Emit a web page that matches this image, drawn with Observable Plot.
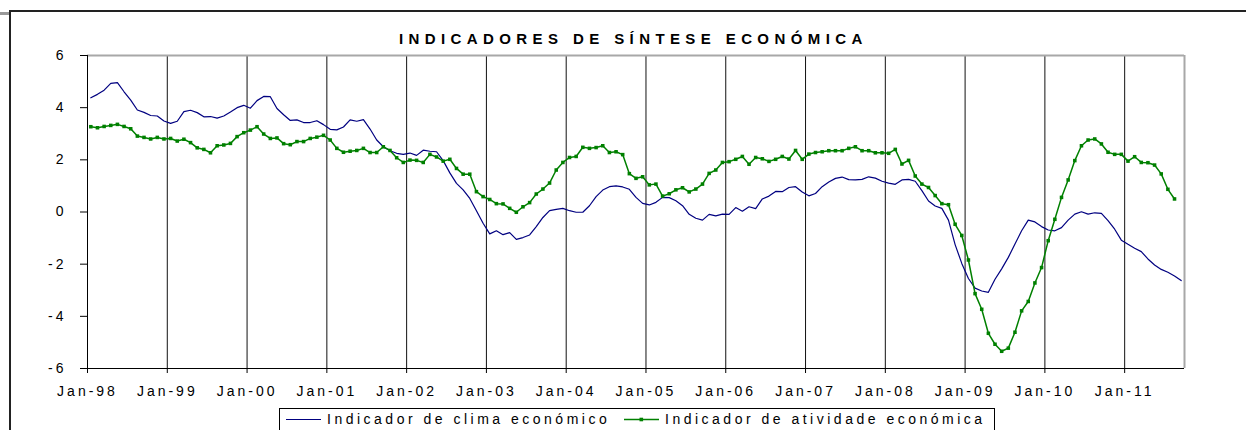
<!DOCTYPE html>
<html><head><meta charset="utf-8">
<script src="https://cdn.jsdelivr.net/npm/d3@7"></script>
<script src="https://cdn.jsdelivr.net/npm/@observablehq/plot@0.6"></script>
<style>
html,body{margin:0;padding:0;background:#fff;}
#wrap{position:relative;width:1246px;height:430px;overflow:hidden;font-family:"Liberation Sans",Arial,sans-serif;color:#000;}
#frame{position:absolute;left:9px;top:10px;width:1300px;height:500px;border-left:2px solid #222;border-top:2px solid #222;}
#stub{position:absolute;left:0;top:12px;width:9px;height:3px;background:#999;}
#title{position:absolute;left:399px;top:31px;font-weight:bold;font-size:15px;letter-spacing:5.4px;white-space:nowrap;line-height:15px;}
#chart{position:absolute;left:0;top:0;}
#chart svg text{letter-spacing:3px;}
#legend{position:absolute;left:279px;top:408px;width:716px;height:40px;border:1px solid #000;background:#fff;box-sizing:border-box;}
.ltxt{position:absolute;top:412px;font-size:14px;line-height:14px;letter-spacing:3.5px;white-space:nowrap;}
.lsw{position:absolute;top:414px;}
</style>
</head><body>
<div id="wrap">
  <div id="stub"></div>
  <div id="frame"></div>
  <div id="title">INDICADORES DE SÍNTESE ECONÓMICA</div>
  <div id="chart"></div>
  <div id="legend"></div>
  <svg class="lsw" style="left:286px" width="36" height="12"><line x1="0" x2="35" y1="5.5" y2="5.5" stroke="#000080" stroke-width="1.2"/></svg>
  <div class="ltxt" style="left:327px">Indicador de clima económico</div>
  <svg class="lsw" style="left:624px" width="36" height="12"><line x1="0" x2="35" y1="5.5" y2="5.5" stroke="#008000" stroke-width="1.5"/><rect x="15.5" y="3.7" width="3.6" height="3.6" fill="#008000"/></svg>
  <div class="ltxt" style="left:665px">Indicador de atividade económica</div>
</div>
<script>
// Series labels
const seriesNames = ["Indicador de clima económico", "Indicador de atividade económica"];
// Tick labels (every January)
const tickLabels = ["Jan-98","Jan-99","Jan-00","Jan-01","Jan-02","Jan-03","Jan-04","Jan-05","Jan-06","Jan-07","Jan-08","Jan-09","Jan-10","Jan-11"];
const yTicks = [-6,-4,-2,0,2,4,6];
// Monthly values, Jan-98 .. Sep-11
const clima = [
 4.38,4.51,4.67,4.93,4.96,4.61,4.29,3.91,3.82,3.70,3.68,3.49,
 3.40,3.48,3.85,3.90,3.81,3.65,3.66,3.60,3.68,3.83,4.00,4.09,
 3.98,4.27,4.43,4.42,3.97,3.73,3.51,3.53,3.43,3.43,3.50,3.35,
 3.17,3.15,3.26,3.53,3.48,3.54,3.18,2.76,2.50,2.35,2.25,2.21,
 2.26,2.17,2.37,2.33,2.31,1.97,1.50,1.10,0.85,0.52,0.05,-0.43,
 -0.84,-0.72,-0.87,-0.79,-1.05,-0.98,-0.88,-0.56,-0.21,0.05,0.10,0.14,
 0.05,-0.01,-0.01,0.24,0.59,0.84,0.97,1.00,0.96,0.87,0.56,0.33,
 0.27,0.37,0.56,0.55,0.43,0.24,-0.09,-0.24,-0.31,-0.09,-0.15,-0.08,
 -0.09,0.17,0.03,0.20,0.13,0.50,0.61,0.79,0.78,0.94,0.97,0.77,
 0.62,0.71,0.97,1.15,1.29,1.34,1.24,1.23,1.25,1.35,1.30,1.18,
 1.11,1.06,1.23,1.25,1.18,0.82,0.42,0.23,0.14,-0.31,-1.25,-1.97,
 -2.55,-2.92,-3.03,-3.08,-2.58,-2.18,-1.74,-1.23,-0.72,-0.31,-0.38,-0.56,
 -0.69,-0.72,-0.60,-0.31,-0.08,0.01,-0.08,-0.03,-0.05,-0.33,-0.66,-1.08,
 -1.24,-1.39,-1.52,-1.80,-2.03,-2.20,-2.31,-2.45,-2.63
];
// Monthly values, Jan-98 .. Aug-11
const atividade = [
 3.27,3.23,3.28,3.32,3.36,3.28,3.19,2.91,2.86,2.80,2.86,2.80,
 2.82,2.72,2.79,2.66,2.46,2.40,2.27,2.54,2.57,2.63,2.89,3.04,
 3.14,3.27,2.99,2.82,2.84,2.62,2.58,2.70,2.70,2.82,2.87,2.94,
 2.76,2.44,2.29,2.33,2.36,2.44,2.28,2.28,2.50,2.36,2.08,1.90,
 1.99,1.98,1.90,2.21,2.11,1.95,2.02,1.67,1.45,1.45,0.78,0.59,
 0.48,0.32,0.31,0.14,-0.01,0.20,0.36,0.69,0.88,1.11,1.61,1.90,
 2.09,2.13,2.48,2.44,2.47,2.54,2.28,2.31,2.20,1.47,1.29,1.35,
 1.04,1.07,0.61,0.70,0.85,0.93,0.77,0.88,1.07,1.48,1.61,1.90,
 1.93,2.02,2.13,1.83,2.09,2.04,1.94,2.02,2.13,2.03,2.36,2.02,
 2.22,2.28,2.31,2.35,2.35,2.35,2.44,2.50,2.35,2.35,2.27,2.27,
 2.25,2.40,1.84,1.98,1.38,1.07,0.94,0.63,0.32,0.28,-0.47,-0.90,
 -1.84,-3.13,-3.73,-4.65,-5.07,-5.34,-5.22,-4.61,-3.79,-3.43,-2.72,-2.13,
 -1.10,-0.28,0.56,1.23,1.97,2.54,2.76,2.80,2.61,2.29,2.21,2.21,
 1.95,2.12,1.90,1.89,1.80,1.46,0.87,0.50
];
const nMonths = 165;
const climaData = clima.map((v, i) => ({x: i + 0.5, v, s: seriesNames[0]}));
const atividadeData = atividade.map((v, i) => ({x: i + 0.5, v, s: seriesNames[1]}));
const janIdx = tickLabels.map((_, i) => i * 12);

const chart = Plot.plot({
  width: 1246, height: 430,
  marginLeft: 87, marginRight: 62, marginTop: 55, marginBottom: 62,
  style: {fontFamily: "Liberation Sans, Arial, sans-serif", fontSize: "14px", background: "transparent", color: "#000", overflow: "visible"},
  x: {domain: [0, nMonths], axis: null},
  y: {domain: [-6, 6], axis: null},
  marks: [
    Plot.ruleX(janIdx.slice(1), {stroke: "#111", strokeWidth: 1}),
    Plot.ruleY([6], {stroke: "#a8a8a8", strokeWidth: 2}),
    Plot.ruleX([nMonths], {stroke: "#a8a8a8", strokeWidth: 2}),
    Plot.ruleX([0], {stroke: "#000", strokeWidth: 1}),
    Plot.ruleY([-6], {stroke: "#000", strokeWidth: 1}),
    Plot.axisY({ticks: yTicks, tickSize: 7, tickPadding: 14, tickFormat: d => String(d), label: null, stroke: "#000", fontSize: 14}),
    Plot.axisX({ticks: janIdx, tickSize: 5, tickPadding: 13, tickFormat: d => tickLabels[Math.round(d / 12)], label: null, stroke: "#000", fontSize: 14}),
    Plot.line(climaData, {x: "x", y: "v", stroke: "#000080", strokeWidth: 1.2}),
    Plot.line(atividadeData, {x: "x", y: "v", stroke: "#008000", strokeWidth: 1.5}),
    Plot.dot(atividadeData, {x: "x", y: "v", symbol: "square", r: 2, fill: "#008000", stroke: null})
  ]
});
document.getElementById("chart").appendChild(chart);
</script>
</body></html>
